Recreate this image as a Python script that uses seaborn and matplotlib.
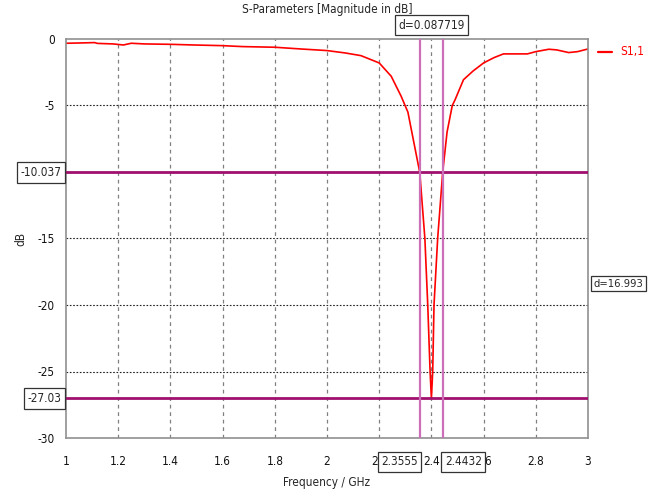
import numpy as np
import pandas as pd
import matplotlib
matplotlib.use("Agg")
import matplotlib.pyplot as plt
import seaborn as sns

# ---- data ----
freq = [1.00, 1.05, 1.11, 1.12, 1.18, 1.22, 1.25, 1.30, 1.40, 1.49, 1.60, 1.675,
        1.80, 1.90, 2.00, 2.07, 2.13, 2.20, 2.246, 2.284, 2.31, 2.33, 2.3555,
        2.375, 2.386, 2.395, 2.400, 2.405, 2.410, 2.424, 2.4432, 2.46, 2.48,
        2.49, 2.523, 2.56, 2.60, 2.64, 2.676, 2.72, 2.768, 2.80, 2.85, 2.88,
        2.926, 2.96, 3.00]
s11 = [-0.32, -0.30, -0.27, -0.33, -0.37, -0.45, -0.32, -0.37, -0.40, -0.45, -0.50, -0.57,
       -0.62, -0.75, -0.87, -1.05, -1.25, -1.80, -2.80, -4.30, -5.50, -7.50, -10.04,
       -15.0, -20.0, -25.0, -27.03, -25.0, -20.0, -15.0, -10.04, -7.0, -5.0,
       -4.6, -3.06, -2.4, -1.80, -1.40, -1.12, -1.12, -1.12, -0.95, -0.77, -0.82,
       -1.02, -0.95, -0.75]

x_ticks = [1, 1.2, 1.4, 1.6, 1.8, 2, 2.2, 2.4, 2.6, 2.8, 3]
x_tick_labels = ["1", "1.2", "1.4", "1.6", "1.8", "2", "2.2", "2.4", "2.6", "2.8", "3"]
y_ticks = [0, -5, -10, -15, -20, -25, -30]
y_tick_labels = ["0", "-5", "-10", "-15", "-20", "-25", "-30"]

marker_levels = [-10.037, -27.03]
marker_level_labels = ["-10.037", "-27.03"]
marker_freqs = [2.3555, 2.4432]
marker_freq_labels = ["2.3555", "2.4432"]
delta_f_label = "d=0.087719"
delta_db_label = "d=16.993"
series_name = "S1,1"

df = pd.DataFrame({"Frequency": freq, "dB": s11, "series": series_name})

sns.set_style("white")
plt.rcParams["font.family"] = ["DejaVu Sans"]
plt.rcParams["font.stretch"] = "condensed"
plt.rcParams["font.size"] = 8

fig = plt.figure(figsize=(6.5, 4.91), dpi=100)
ax = fig.add_axes([66 / 650, 1 - 438 / 491, (588 - 66) / 650, (438 - 39) / 491])

sns.lineplot(data=df, x="Frequency", y="dB", hue="series", palette=["#ff0000"],
             linewidth=1.2, ax=ax, legend=False, estimator=None, sort=False)

ax.set_xlim(1, 3)
ax.set_ylim(-30, 0)
ax.set_xticks(x_ticks)
ax.set_xticklabels(x_tick_labels)
ax.set_yticks(y_ticks)
ax.set_yticklabels(y_tick_labels)

for xv in x_ticks[1:-1]:
    ax.axvline(xv, color="#808080", linestyle=(0, (3, 3)), linewidth=0.9, zorder=0)
for yv in y_ticks[1:-1]:
    ax.axhline(yv, color="#222222", linestyle=(0, (1.5, 1.5)), linewidth=0.8, zorder=0)

for s in ax.spines.values():
    s.set_color("#909090")
    s.set_linewidth(1.2)

FS = 8.5
ax.tick_params(axis="both", direction="out", length=4, width=0.9, color="#606060",
               labelsize=FS, labelcolor="#111111", pad=4)
ax.tick_params(axis="x", pad=8)
ax.set_xlabel("Frequency / GHz", fontsize=FS, labelpad=6)
ax.set_ylabel("dB", fontsize=FS, labelpad=7)
ax.set_title("S-Parameters [Magnitude in dB]", fontsize=FS, pad=19)

# markers
for lv in marker_levels:
    ax.axhline(lv, color="#a0106e", linewidth=2.0, zorder=3)
for fv in marker_freqs:
    ax.axvline(fv, color="#cc6fb8", linewidth=1.6, zorder=3)

box = dict(boxstyle="square,pad=0.3", fc="white", ec="#333333", lw=0.9)
for lv, lab in zip(marker_levels, marker_level_labels):
    ax.annotate(lab, xy=(0, lv), xycoords=("axes fraction", "data"),
                xytext=(-3, 0), textcoords="offset points", ha="right", va="center",
                fontsize=FS, bbox=box, annotation_clip=False, zorder=6)
for fv, lab in zip(marker_freqs, marker_freq_labels):
    ha = "right" if fv < 2.4 else "left"
    dx = -1.5 if fv < 2.4 else 1.5
    ax.annotate(lab, xy=(fv, 0), xycoords=("data", "axes fraction"),
                xytext=(dx, -17), textcoords="offset points", ha=ha, va="center",
                fontsize=FS, bbox=box, annotation_clip=False, zorder=6)
ax.annotate(delta_f_label, xy=(sum(marker_freqs) / 2, 1), xycoords=("data", "axes fraction"),
            xytext=(0, 10), textcoords="offset points", ha="center", va="center",
            fontsize=FS, bbox=box, annotation_clip=False)
ax.annotate(delta_db_label, xy=(1, -18.4), xycoords=("axes fraction", "data"),
            xytext=(4, 0), textcoords="offset points", ha="left", va="center",
            fontsize=8, bbox=dict(boxstyle="square,pad=0.25", fc="white", ec="#333333", lw=0.9),
            annotation_clip=False)

# legend
fig.add_artist(plt.Line2D([598 / 650, 612 / 650], [1 - 52 / 491] * 2, color="#ff0000", lw=1.6))
fig.text(620 / 650, 1 - 52 / 491, series_name, color="#ff0000", fontsize=FS, va="center", ha="left")

fig.savefig("out.png", dpi=100)
